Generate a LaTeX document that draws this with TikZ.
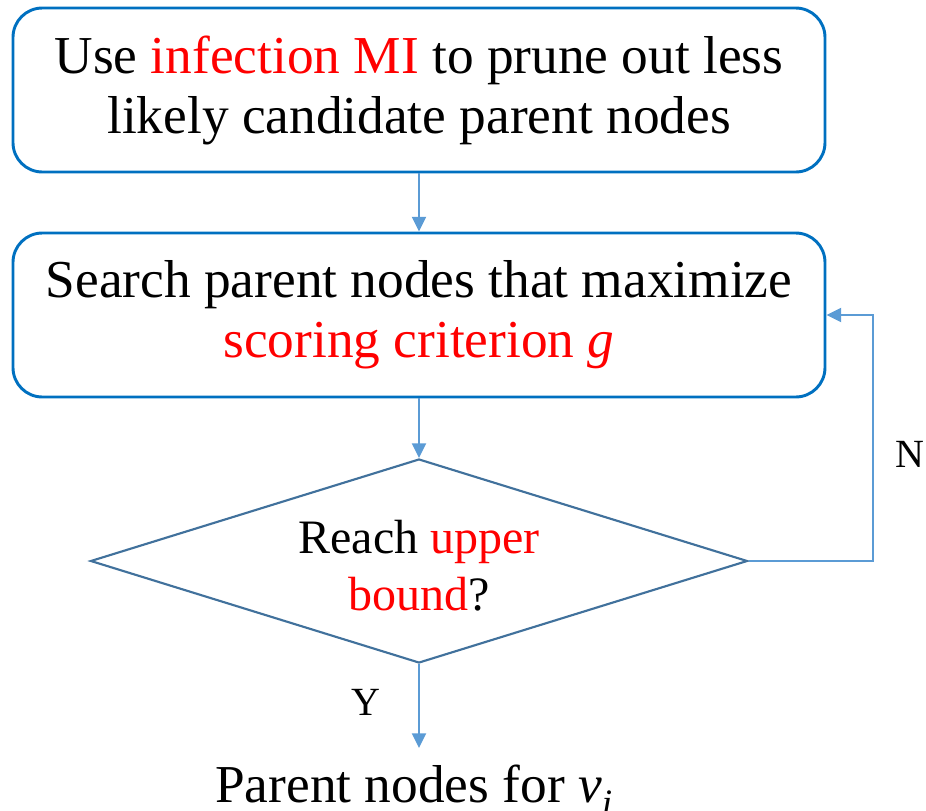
\documentclass[tikz,border=0pt]{standalone}
\usepackage{fontspec}
\setmainfont{Liberation Serif}
\usetikzlibrary{shapes.geometric,arrows.meta}
\definecolor{boxblue}{HTML}{0070C0}
\definecolor{arrowblue}{HTML}{5B9BD5}
\definecolor{diablue}{HTML}{41719C}
\definecolor{hired}{HTML}{FF0000}
\tikzset{
  procbox/.style={draw=boxblue, line width=2.2pt, rounded corners=22pt, minimum width=609pt, minimum height=123pt, align=center, inner sep=0pt, font=\fontsize{40}{45}\selectfont},
  decision/.style={draw=diablue, line width=1.6pt, diamond, minimum width=492.75pt, minimum height=153pt, inner sep=0pt, aspect=3.2},
  flow/.style={draw=arrowblue, line width=1.5pt, -{Triangle[length=11pt,width=10.5pt]}},
  bigtext/.style={font=\fontsize{40}{45}\selectfont, inner sep=0pt},
  midtext/.style={font=\fontsize{36}{43}\selectfont, inner sep=0pt, align=center},
  smalltext/.style={font=\fontsize{30}{36}\selectfont, inner sep=0pt}
}
\begin{document}
\begin{tikzpicture}[x=0.75pt,y=-0.75pt]
\useasboundingbox (0,0) rectangle (926,811);
\node[procbox] (b1) at (419,90) {Use \textcolor{hired}{infection MI} to prune out less\\likely candidate parent nodes};
\node[procbox] (b2) at (419,315) {Search parent nodes that maximize\\\textcolor{hired}{scoring criterion \textit{g}}};
\node[decision] (d) at (419,561) {};
\node[midtext] (dt) at (419,566) {Reach \textcolor{hired}{upper}\\\textcolor{hired}{bound}?};
\node[bigtext, anchor=base west] (out) at (215,802) {Parent nodes for \textit{v}\textsubscript{\textit{i}}};
\coordinate (c1) at (873,561);
\coordinate (c2) at (873,315);
\coordinate (yend) at (419,748);
\node[smalltext, anchor=base] (ylab) at (366,715) {Y};
\node[smalltext, anchor=base west] (nlab) at (895,467) {N};
\draw[flow] (b1.south) -- (b2.north);
\draw[flow] (b2.south) -- (d.north);
\draw[flow] (d.south) -- (yend);
\draw[flow] (d.east) -- (c1) -- (c2) -- (b2.east);
\end{tikzpicture}
\end{document}
